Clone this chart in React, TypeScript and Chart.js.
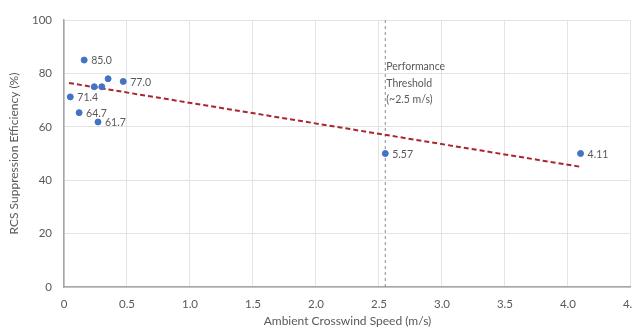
import React, { useEffect, useRef } from "react";
import { Chart, registerables } from "chart.js";

Chart.register(...registerables);

// Observations
const windSpeed = [0.16, 0.35, 0.47, 0.24, 0.30, 0.05, 0.12, 0.27, 2.55, 4.10];
const efficiency = [85.0, 78.0, 77.0, 75.0, 75.0, 71.2, 65.3, 61.8, 50.0, 50.0];
const pointLabels = ["85.0", "", "77.0", "", "", "71.4", "64.7", "61.7", "5.57", "4.11"];

// Trend line end points
const trendX = [0.04, 4.1];
const trendY = [76.4, 45.0];

// Threshold
const thresholdX = 2.55;
const thresholdLines = ["Performance", "Threshold", "(~2.5 m/s)"];
const thresholdTextY = 82.5;

const xTicks = [0, 0.5, 1.0, 1.5, 2.0, 2.5, 3.0, 3.5, 4.0, 4.5];
const yTicks = [0, 20, 40, 60, 80, 100];

const FONT = "Lato, 'Open Sans', sans-serif";

const labelPlugin = {
  id: "customLabels",
  afterDatasetsDraw(chart: any) {
    const ctx = chart.ctx;
    const xs = chart.scales.x;
    const ys = chart.scales.y;
    ctx.save();
    ctx.font = `10.5px ${FONT}`;
    ctx.fillStyle = "#595959";
    ctx.textAlign = "left";
    ctx.textBaseline = "middle";
    windSpeed.forEach((w, i) => {
      const t = pointLabels[i];
      if (!t) return;
      ctx.fillText(t, xs.getPixelForValue(w) + 7, ys.getPixelForValue(efficiency[i]) + 1);
    });
    const tx = xs.getPixelForValue(thresholdX) + 1;
    const ty = ys.getPixelForValue(thresholdTextY);
    thresholdLines.forEach((l, i) => {
      ctx.fillText(l, tx, ty + i * 16.5);
    });
    ctx.restore();
  },
};

export default function App() {
  const ref = useRef<HTMLCanvasElement | null>(null);
  useEffect(() => {
    if (!ref.current) return;
    const chart = new Chart(ref.current, {
      type: "scatter",
      data: {
        datasets: [
          {
            label: "Threshold",
            type: "line",
            data: [
              { x: thresholdX, y: 0 },
              { x: thresholdX, y: 100 },
            ],
            borderColor: "#8c8c8c",
            borderWidth: 1,
            borderDash: [3, 3],
            pointRadius: 0,
            fill: false,
            order: 3,
          },
          {
            label: "Trend",
            type: "line",
            data: trendX.map((x, i) => ({ x, y: trendY[i] })),
            borderColor: "#a8262e",
            borderWidth: 2,
            borderDash: [5, 3],
            pointRadius: 0,
            fill: false,
            order: 2,
          },
          {
            label: "Data",
            data: windSpeed.map((x, i) => ({ x, y: efficiency[i] })),
            backgroundColor: "#4472C4",
            borderColor: "#4472C4",
            pointRadius: 3,
            order: 1,
          },
        ],
      },
      options: {
        animation: false,
        responsive: false,
        layout: { padding: { top: 20, right: 5, left: 0, bottom: 0 }, autoPadding: false },
        plugins: { legend: { display: false }, tooltip: { enabled: false } },
        scales: {
          x: {
            type: "linear",
            min: 0,
            max: 4.5,
            afterBuildTicks(scale: any) {
              scale.ticks = xTicks.map((v) => ({ value: v }));
            },
            afterFit(scale: any) {
              scale.height = 42;
            },
            ticks: {
              color: "#595959",
              font: { family: FONT, size: 11.5 },
              padding: 10,
              maxRotation: 0,
              autoSkip: false,
              callback: (v: any) => (Number(v) === 0 ? "0" : Number(v).toFixed(1)),
            },
            grid: { color: "#e3e3e3", drawTicks: false },
            border: { color: "#a6a6a6", width: 1.5 },
            title: {
              display: true,
              text: "Ambient Crosswind Speed (m/s)",
              color: "#595959",
              font: { family: FONT, size: 12 },
              padding: { top: 0, bottom: 1 },
            },
          },
          y: {
            type: "linear",
            min: 0,
            max: 100,
            afterBuildTicks(scale: any) {
              scale.ticks = yTicks.map((v) => ({ value: v }));
            },
            afterFit(scale: any) {
              scale.width = 64;
            },
            ticks: {
              color: "#595959",
              font: { family: FONT, size: 11.5 },
              padding: 12,
            },
            grid: { color: "#e3e3e3", drawTicks: false },
            border: { color: "#a6a6a6", width: 1.5 },
            title: {
              display: true,
              text: "RCS Suppression Efficiency (%)",
              color: "#595959",
              font: { family: FONT, size: 12 },
              padding: { top: 7, bottom: 0 },
            },
          },
        },
      },
      plugins: [labelPlugin],
    });
    return () => chart.destroy();
  }, []);
  return (
    <div style={{ position: "fixed", left: 0, top: 0, width: 633, height: 329, overflow: "hidden", background: "#fff" }}>
      <canvas ref={ref} width={649} height={329} style={{ width: 649, height: 329, display: "block" }} />
    </div>
  );
}
